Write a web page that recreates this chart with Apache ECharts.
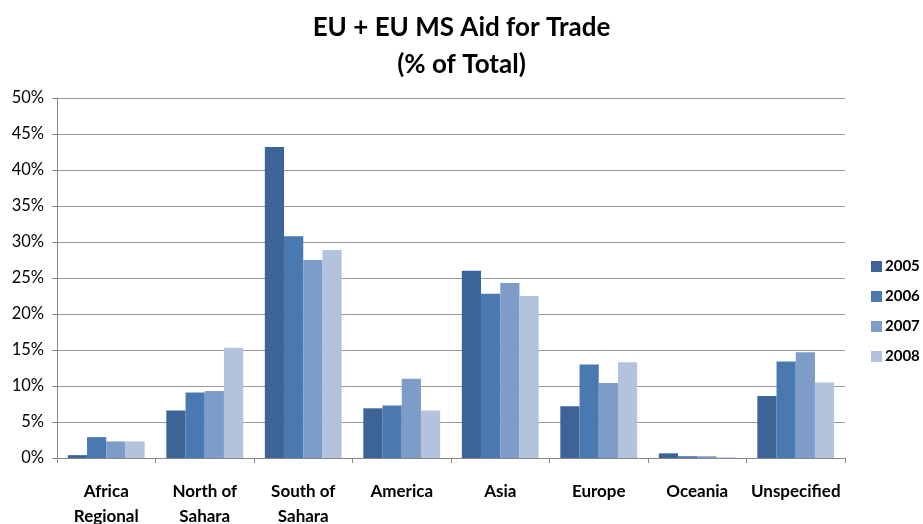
<!DOCTYPE html>
<html>
<head>
<meta charset="utf-8">
<script src="https://cdn.jsdelivr.net/npm/echarts@6/dist/echarts.min.js"></script>
<style>
html,body{margin:0;padding:0;background:#fff;}
#chart{width:923px;height:524px;}
</style>
</head>
<body>
<div id="chart"></div>
<script>
const categories = ['Africa\nRegional', 'North of\nSahara', 'South of\nSahara', 'America', 'Asia', 'Europe', 'Oceania', 'Unspecified'];
const years = ['2005', '2006', '2007', '2008'];
const v2005 = [0.4, 6.6, 43.2, 6.9, 26.0, 7.2, 0.65, 8.6];
const v2006 = [2.9, 9.1, 30.8, 7.3, 22.8, 13.0, 0.25, 13.4];
const v2007 = [2.3, 9.3, 27.5, 11.0, 24.3, 10.4, 0.25, 14.7];
const v2008 = [2.3, 15.3, 28.9, 6.6, 22.5, 13.3, 0.1, 10.5];
const yTicks = [0, 5, 10, 15, 20, 25, 30, 35, 40, 45, 50];

const colors = ['#3C6496', '#4A78B0', '#7E9CC8', '#B4C3DD'];
const seriesValues = [v2005, v2006, v2007, v2008];
const font = 'Lato, "Open Sans", sans-serif';

const chart = echarts.init(document.getElementById('chart'));
chart.setOption({
  animation: false,
  color: colors,
  title: {
    text: 'EU + EU MS Aid for Trade\n(% of Total)',
    left: 'center',
    top: 4,
    textStyle: { fontFamily: font, fontWeight: 'bold', fontSize: 26, lineHeight: 37, color: '#000' }
  },
  legend: {
    orient: 'vertical',
    left: 866,
    top: 254,
    itemWidth: 11,
    itemHeight: 11,
    itemGap: 15,
    icon: 'rect',
    data: years,
    textStyle: { fontFamily: font, fontWeight: 'bold', fontSize: 15, color: '#000', padding: [0, 0, 0, -2] }
  },
  grid: { left: 57, right: 78, top: 98, bottom: 66, containLabel: false, outerBoundsMode: 'none' },
  xAxis: {
    type: 'category',
    data: categories,
    boundaryGap: true,
    axisLine: { lineStyle: { color: '#888', width: 1 } },
    axisTick: { show: true, length: 5, lineStyle: { color: '#888' } },
    axisLabel: { fontFamily: font, fontWeight: 'bold', fontSize: 17, color: '#000', lineHeight: 25, margin: 21, interval: 0 }
  },
  yAxis: {
    type: 'value',
    min: 0, max: 50, interval: 5,
    axisLine: { show: true, lineStyle: { color: '#888' } },
    axisTick: { show: true, length: 5, lineStyle: { color: '#888' } },
    splitLine: { lineStyle: { color: '#999', width: 1 } },
    axisLabel: {
      fontFamily: font, fontSize: 16.5, color: '#000', margin: 13,
      formatter: function (v) { return yTicks.indexOf(v) >= 0 ? v + '%' : ''; }
    }
  },
  series: years.map((y, i) => ({
    name: y,
    type: 'bar',
    data: seriesValues[i],
    barGap: '0%',
    barCategoryGap: '22%',
    itemStyle: { color: colors[i] }
  }))
});
</script>
</body>
</html>
